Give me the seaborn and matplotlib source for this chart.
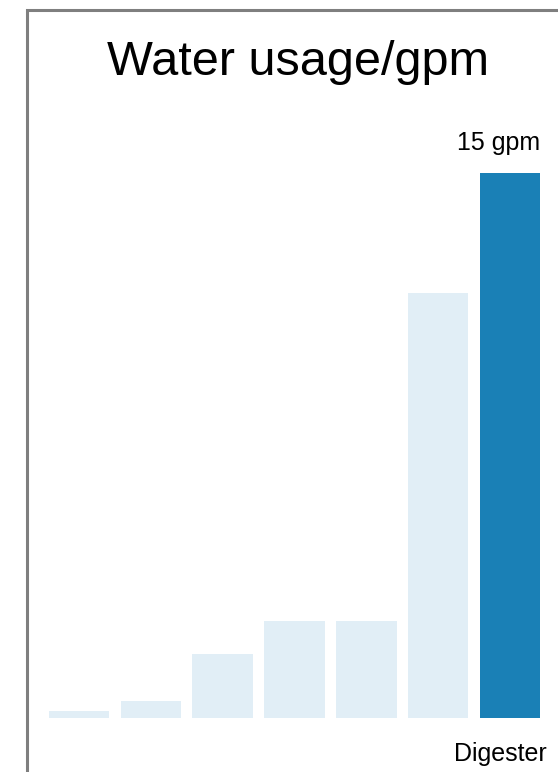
import matplotlib
matplotlib.use("Agg")
import matplotlib.pyplot as plt
import matplotlib.transforms as mtransforms
from matplotlib.patches import Rectangle
import seaborn as sns
import pandas as pd

# Water usage per process step (gpm); only the largest consumer is named
positions = [0, 1, 2, 3, 4, 5, 6]
usage_gpm = [0.2, 0.47, 1.76, 2.67, 2.67, 11.7, 15.0]
tick_labels = ["", "", "", "", "", "", "Digester"]
highlight = [False, False, False, False, False, False, True]
title_text = "Water usage/gpm"
value_label = "15 gpm"

light_blue = "#e1eef6"
dark_blue = "#1a80b6"

sns.set_theme(style="white")
plt.rcParams["font.family"] = ["Liberation Sans", "DejaVu Sans"]

df = pd.DataFrame({"pos": positions, "gpm": usage_gpm,
                   "hl": ["yes" if h else "no" for h in highlight]})

W, H = 558, 772
fig = plt.figure(figsize=(W / 100, H / 100), dpi=100)
fig.patch.set_facecolor("white")

# axes placed in pixel terms: baseline at y=718, 15 gpm at y=173
left_px, right_px = 43, 546
base_px = 718
px_per_unit = (718 - 173) / 15.0
ytop = 16.5
top_px = base_px - ytop * px_per_unit
ax = fig.add_axes([left_px / W, (H - base_px) / H,
                   (right_px - left_px) / W, (base_px - top_px) / H])

sns.barplot(data=df, x="pos", y="gpm", hue="hl", order=positions,
            palette={"no": light_blue, "yes": dark_blue},
            width=0.84, dodge=False, legend=False, saturation=1.0,
            linewidth=0, ax=ax)

ax.set_xlim(-0.5, 6.5)
ax.set_ylim(0, ytop)
ax.set_xlabel("")
ax.set_ylabel("")
ax.set_yticks([])
ax.set_xticks(positions)
ax.set_xticklabels(tick_labels, fontsize=18, color="black")
ax.tick_params(axis="x", length=0, pad=17)
shift = mtransforms.ScaledTranslation(-10 / 100, 0, fig.dpi_scale_trans)
for lbl in ax.get_xticklabels():
    lbl.set_transform(lbl.get_transform() + shift)
for s in ax.spines.values():
    s.set_visible(False)
ax.patch.set_alpha(0)

# value label above the highlighted bar
top_idx = highlight.index(True)
ax.annotate(value_label, xy=(positions[top_idx] + 0.42, usage_gpm[top_idx]),
            xytext=(0, 18), textcoords="offset pixels",
            ha="right", va="bottom", fontsize=18, color="black")

fig.text(298 / W, 1 - 75 / H, title_text, ha="center", va="baseline",
         fontsize=35, color="black")

# outer frame, running off the right and bottom edges
fig.patches.append(Rectangle((26.5 / W, -0.1), 1.2, 1 - 10 / H + 0.1,
                             transform=fig.transFigure, fill=False,
                             edgecolor="#7f7f7f", linewidth=2.2))

fig.savefig("out.png", dpi=100)
